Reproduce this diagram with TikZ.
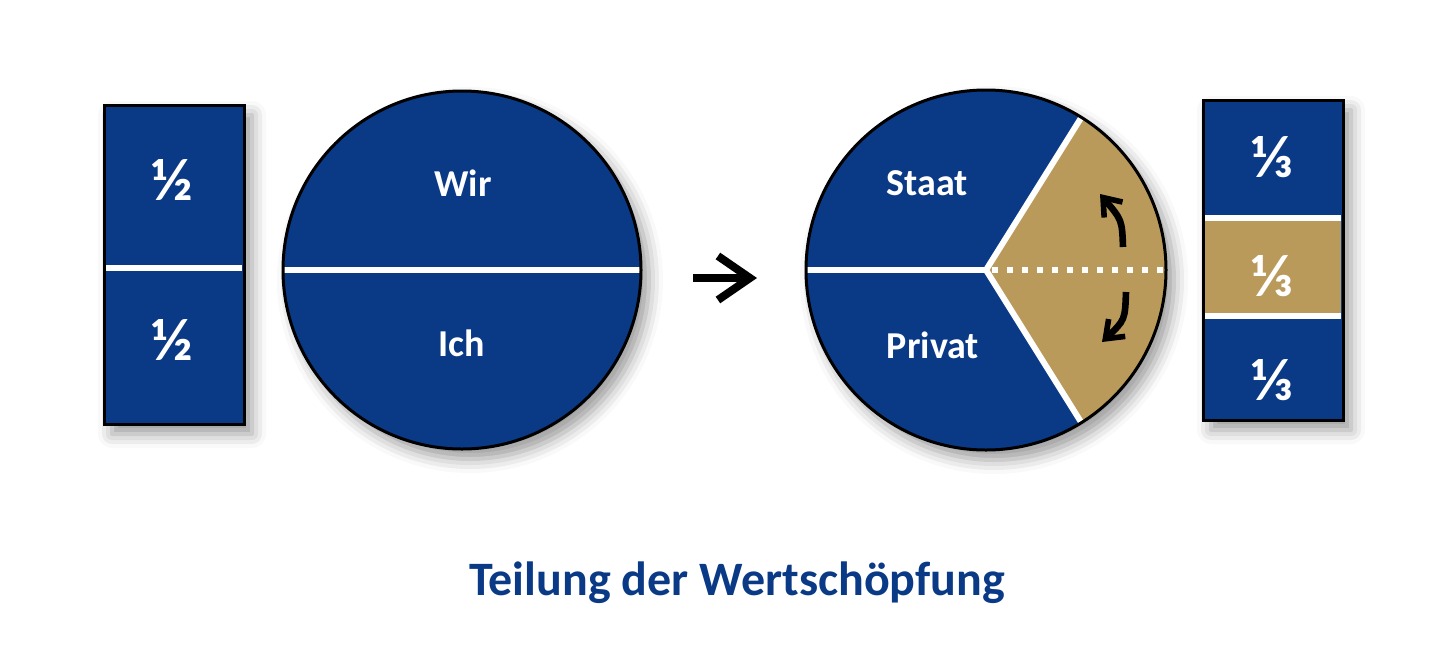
\documentclass[tikz,border=0pt]{standalone}
\usepackage{fontspec}
\setmainfont{Carlito}
\usetikzlibrary{shadows.blur,arrows.meta,calc}
\definecolor{dblue}{HTML}{0A3A86}
\definecolor{gold}{HTML}{B99A5B}
\tikzset{
  shad/.style={blur shadow={shadow xshift=4pt, shadow yshift=-5pt, shadow blur radius=7pt, shadow opacity=40}},
  frame/.style={draw=black, line width=1.5pt},
  sep/.style={draw=white, line width=3pt},
  lbl/.style={text=white, font=\bfseries\fontsize{19}{21}\selectfont},
  frac/.style={text=white, font=\bfseries\fontsize{30}{32}\selectfont},
  curv/.style={line width=3.3pt, -{Straight Barb[length=8pt,width=12pt,line width=2.8pt]}},
}
\begin{document}
\begin{tikzpicture}[x=0.5pt,y=-0.5pt]
\useasboundingbox (0,0) rectangle (1452,660);
% left rectangle
\path[shad, fill=dblue] (104,105) rectangle (244,424);
\draw[sep] (106,268) -- (242,268);
\draw[frame] (104,105) rectangle (244,424);
\node[frac] (h1) at (172,180) {½};
\node[frac] (h2) at (172,340) {½};
% left circle
\coordinate (c1) at (462,270);
\path[shad, fill=dblue] (c1) circle[radius=179];
\draw[sep] (284,270) -- (640,270);
\draw[frame] (c1) circle[radius=179];
\node[lbl] (wir) at (463,183) {Wir};
\node[lbl] (ich) at (462,343) {Ich};
% arrow
\coordinate (a1) at (693,278);
\coordinate (a2) at (757,278);
\draw[line width=4pt, -{Straight Barb[length=16pt,width=22pt,line width=4pt]}] (a1) -- (a2);
% right circle
\coordinate (c2) at (986,270);
\path[shad, fill=dblue] (c2) circle[radius=180];
\fill[gold] (c2) -- ++(-58:180) arc[start angle=-58, end angle=58, radius=180] -- cycle;
\draw[sep] (c2) -- ++(180:179);
\draw[sep] (c2) -- ++(58:180);
\draw[sep] (c2) -- ++(-58:180);
\coordinate (dotA) at ($(c2)+(6,0)$);
\coordinate (dotB) at ($(c2)+(178,0)$);
\draw[white, line width=3pt, dash pattern=on 3pt off 4.5pt] (dotA) -- (dotB);
\draw[frame] (c2) circle[radius=180];
\node[lbl] (staat) at (927,183) {Staat};
\node[lbl] (privat) at (933,345) {Privat};
\coordinate (u1) at (1123,247);
\coordinate (u2) at (1100,194);
\coordinate (d1) at (1126,292);
\coordinate (d2) at (1102,342);
\draw[curv] (u1) .. controls (1122,220) .. (u2);
\draw[curv] (d1) .. controls (1125,320) .. (d2);
% right rectangle
\path[shad, fill=dblue] (1203,100) rectangle (1343,420);
\fill[gold] (1205,218) rectangle (1341,316);
\draw[sep] (1205,218) -- (1341,218);
\draw[sep] (1205,316) -- (1341,316);
\draw[frame] (1203,100) rectangle (1343,420);
\node[frac] (t1) at (1272,157) {⅓};
\node[frac] (t2) at (1272,276) {⅓};
\node[frac] (t3) at (1272,380) {⅓};
% title
\node[text=dblue, font=\bfseries\fontsize{24}{28}\selectfont] (title) at (737,583) {Teilung der Wertschöpfung};
\end{tikzpicture}
\end{document}
